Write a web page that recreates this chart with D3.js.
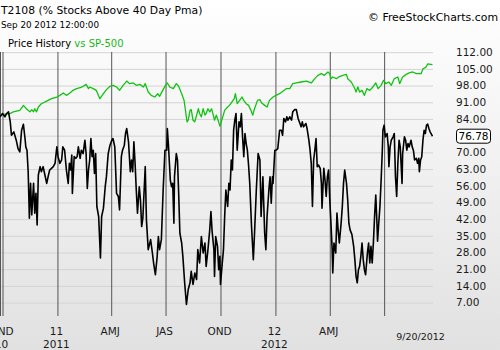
<!DOCTYPE html>
<html><head><meta charset="utf-8">
<script src="https://cdn.jsdelivr.net/npm/d3@7"></script>
<style>html,body{margin:0;padding:0;background:#fff;} svg{display:block;font-family:"DejaVu Sans",Verdana,sans-serif;}</style>
</head><body><svg id="chart" width="500" height="350"></svg>
<script>
// ---------- data ----------
const startDate = "2010-10-01";
const endDate = "2012-09-20";
const quarterDates = ["2010-10-01","2011-01-01","2011-04-01","2011-07-01","2011-10-01","2012-01-01","2012-04-01","2012-07-01"];
const quarterLabels = ["OND","11","AMJ","JAS","OND","12","AMJ",""];
const yearLabels = ["10","2011","","","","2012","",""];
const yTicks = [7,14,21,28,35,42,49,56,63,70,77,84,91,98,105,112];
const lastLabel = "9/20/2012";

// T2108 (day offsets from startDate)
const t2108Days = [
 -4,0,4,7,10,13,15,19,23,26,
 29,32,35,38,39,41,43,45,47,49,
 52,54,56,58,60,63,65,68,71,74,
 77,79,82,85,88,91,93,96,99,101,
 104,107,110,112,114,116,117,120,123,125,
 127,130,132,135,138,140,142,144,146,148,
 150,152,154,156,158,161,164,166,169,172,
 174,177,180,183,185,188,191,194,196,199,
 201,204,206,208,211,214,216,218,220,222,
 224,226,229,231,233,235,239,241,244,248,
 251,253,256,259,261,263,266,269,272,275,
 276,278,281,283,285,287,288,291,293,295,
 297,300,302,305,308,311,314,316,319,322,
 325,327,330,333,336,339,341,344,347,349,
 351,354,355,357,360,362,364,365,368,370,
 372,374,377,379,381,383,385,387,389,391,
 393,396,398,400,402,404,406,408,410,412,
 414,417,420,422,425,428,431,433,436,439,
 441,443,446,448,450,452,453,456,458,461,
 464,467,469,471,474,476,478,481,484,486,
 489,492,495,497,500,502,504,508,510,513,
 515,517,519,521,523,525,527,529,532,534,
 535,538,540,542,544,546,548,550,552,553,
 555,558,560,562,564,567,569,571,573,576,
 578,580,582,585,588,590,592,594,596,598,
 600,602,604,606,608,611,613,615,617,619,
 621,623,625,627,628,630,632,634,636,637,
 639,641,644,646,647,649,651,654,656,658,
 660,662,664,666,669,670,673,675,677,679,
 681,684,686,688,690,693,695,697,698,700,
 702,704,706,708,710,712,714,716,720];
const t2108Values = [
 84.9,86.3,84.9,86.3,87.0,82.8,77.2,78.6,75.1,71.6,
 70.2,79.3,81.8,75.1,72.3,70.9,61.9,42.4,57.0,43.8,
 57.0,44.5,52.8,39.6,60.5,64.0,61.9,64.0,60.5,57.0,
 60.5,62.6,63.3,64.0,65.4,72.3,68.2,65.4,66.8,72.3,
 70.9,62.6,57.0,65.4,62.6,68.9,52.8,68.2,67.5,68.2,
 72.3,67.5,70.9,69.5,75.1,69.5,54.9,62.6,66.8,75.8,
 68.2,70.9,61.2,69.5,47.3,43.1,25.7,43.1,46.6,55.6,
 59.8,69.5,73.0,75.1,75.8,72.3,52.8,51.5,45.9,68.2,
 70.9,73.0,77.9,80.0,74.4,61.9,66.8,61.9,74.4,65.4,
 54.2,44.5,55.6,50.1,38.9,42.4,64.0,41.7,29.2,33.4,
 27.8,23.6,18.7,26.4,34.7,29.2,33.4,54.2,70.9,70.9,
 80.0,72.3,58.4,55.6,57.0,40.3,59.8,69.5,66.8,52.8,
 36.1,32.0,26.4,15.3,6.2,12.5,15.3,20.1,14.6,19.4,
 16.7,29.2,23.6,34.7,27.8,32.0,22.2,29.2,37.5,45.2,
 36.8,29.2,18.0,34.7,30.6,20.8,26.4,14.6,23.6,29.2,
 43.1,54.2,47.3,57.0,54.2,66.8,62.6,79.3,83.5,86.3,
 70.9,82.8,80.7,86.3,76.5,68.2,77.9,73.7,70.9,64.7,
 57.0,38.9,25.0,36.1,54.2,69.5,66.8,43.1,59.8,36.1,
 29.2,43.1,54.2,59.8,48.7,59.8,57.0,70.9,70.9,71.6,
 79.3,79.3,77.2,84.2,82.8,84.9,83.5,84.9,83.5,87.0,
 87.9,87.9,84.2,82.8,80.7,82.8,80.7,82.1,80.0,75.1,
 70.9,65.4,47.3,66.8,70.9,75.8,64.0,64.7,63.3,57.0,
 46.6,63.3,58.4,51.5,59.8,62.6,50.1,40.3,29.2,19.4,
 32.0,27.8,44.5,37.5,32.0,40.3,47.3,57.0,62.6,57.0,
 50.1,40.3,37.5,35.6,30.6,25.0,18.0,15.3,20.8,22.2,
 26.4,32.0,25.0,20.8,18.7,27.8,32.0,23.6,30.6,23.6,
 32.0,43.1,52.1,40.3,32.7,40.3,47.3,58.4,70.9,79.3,
 81.4,76.5,77.9,72.3,64.0,72.3,75.1,76.5,77.9,59.8,
 51.5,65.4,75.1,72.3,57.0,69.5,76.5,75.1,70.9,73.7,
 72.3,75.1,72.3,70.9,66.8,67.5,65.4,67.5,61.9,66.8,
 68.2,75.1,79.3,77.9,81.4,81.8,80.0,78.6,76.78];

// SP-500 overlay (plotted on the same scale as drawn)
const spDays = [
 -4,4,13,18,29,35,40,46,49,52,
 54,57,60,65,74,82,91,96,102,107,
 113,118,124,130,135,140,144,146,152,157,
 163,169,174,180,185,191,196,202,208,213,
 219,224,230,236,239,244,
 249,255,260,263,269,273,276,280,286,291,
 295,300,304,306,309,311,314,316,319,322,
 325,328,330,333,336,339,341,344,347,350,
 353,355,358,361,364,368,372,377,380,384,
 388,390,393,397,401,404,408,412,416,419,
 422,427,431,434,439,443,447,453,458,464,
 470,475,481,
 486,492,500,509,517,523,528,534,539,545,
 548,550,553,559,564,570,576,578,584,590,
 592,595,598,602,606,610,615,620,625,629,
 634,638,642,647,651,656,662,665,670,676,
 681,687,693,701,704,709,712,720];
const spValues = [
 85.6,86.0,86.3,87.0,87.6,89.7,88.3,87.0,87.9,87.0,
 88.3,87.0,89.0,90.4,91.5,92.5,93.2,93.9,94.9,93.9,
 94.9,96.0,96.7,97.1,97.7,98.5,96.7,97.4,96.7,96.0,
 92.5,94.6,96.3,97.7,98.1,97.4,96.0,98.1,99.9,98.8,
 99.1,98.1,98.5,97.4,98.8,95.3,
 93.9,93.2,94.6,93.5,96.3,98.1,99.1,97.4,96.7,98.8,
 97.7,94.6,91.8,88.3,82.8,83.5,87.6,87.9,83.5,82.8,
 85.6,88.3,86.3,84.9,88.3,85.6,86.3,88.3,87.0,88.3,
 85.6,83.5,85.6,83.5,81.0,84.2,87.6,89.0,89.7,91.1,
 92.5,94.6,90.4,91.8,93.2,91.8,90.4,89.7,87.6,85.6,
 88.3,91.8,92.1,90.7,89.7,89.0,91.8,93.2,93.9,94.6,
 95.7,96.7,96.7,
 98.8,99.1,99.5,99.9,99.1,100.9,102.3,103.0,102.3,103.7,
 103.0,100.9,101.6,100.9,101.8,102.3,102.7,100.9,99.5,96.7,
 95.3,97.4,95.3,96.0,93.9,96.7,96.0,97.4,99.1,96.7,
 98.1,100.2,98.8,99.5,98.1,100.9,101.6,98.8,101.6,102.7,
 103.3,103.7,103.0,103.0,105.0,105.7,107.1,106.8];

// ---------- chart ----------
const W = 500, H = 350;
const plotRight = 433, plotTop = 52, plotBottom = 316;
const parse = d3.utcParse("%Y-%m-%d");
const t0 = parse(startDate), t1 = parse(endDate);
const x = d3.scaleUtc().domain([t0, t1]).range([2.5, 432.5]);
const y = d3.scaleLinear().domain([7, 112]).range([302.6, 52.2]);

const svg = d3.select("#chart");
const defs = svg.append("defs");
const grad = defs.append("linearGradient").attr("id","bg").attr("x1",0).attr("y1",0).attr("x2",0).attr("y2",1);
grad.append("stop").attr("offset","0%").attr("stop-color","#ffffff");
grad.append("stop").attr("offset","100%").attr("stop-color","#e1e1e1");
defs.append("clipPath").attr("id","clip").append("rect").attr("x",0).attr("y",0).attr("width",plotRight).attr("height",plotBottom);

svg.append("rect").attr("width",W).attr("height",H).attr("fill","url(#bg)");

// horizontal grid + right labels
const yAxis = d3.axisRight(y).tickValues(yTicks).tickSize(-plotRight).tickPadding(23)
  .tickFormat(d => d === 77 ? "" : d3.format(".2f")(d));
const gy = svg.append("g").attr("transform",`translate(${plotRight},0)`).call(yAxis);
gy.select(".domain").remove();
gy.selectAll(".tick line").attr("stroke","#d4d4d4").attr("stroke-width",1);
gy.selectAll(".tick text").attr("fill","#1a1a1a").attr("font-size","10.5px")
  .attr("font-family","'DejaVu Sans',Verdana,sans-serif");

// vertical quarter lines
const qd = quarterDates.map(parse);
const xAxis = d3.axisBottom(x).tickValues(qd).tickSize(-(plotBottom - plotTop)).tickFormat("");
const gx = svg.append("g").attr("transform",`translate(0,${plotBottom})`).call(xAxis);
gx.select(".domain").remove();
gx.selectAll(".tick line").attr("stroke","#555").attr("stroke-width",1);
svg.append("line").attr("x1",0.5).attr("x2",0.5).attr("y1",plotTop).attr("y2",plotBottom)
  .attr("stroke","#555").attr("stroke-width",1);

// labels under quarter lines
const labG = svg.append("g").attr("font-size","10.5px").attr("fill","#1a1a1a").attr("text-anchor","middle");
labG.selectAll("text.q").data(qd).enter().append("text").attr("class","q")
  .attr("x", d => x(d) - 1).attr("y", 335).text((d,i) => quarterLabels[i]);
labG.selectAll("text.yr").data(qd).enter().append("text").attr("class","yr")
  .attr("x", d => x(d) - 1).attr("y", 348).text((d,i) => yearLabels[i]);
svg.append("text").attr("x", x(t1) - 12).attr("y", 340).attr("text-anchor","middle")
  .attr("font-size","9.5px").attr("fill","#1a1a1a").text(lastLabel);

// lines
const spData = spDays.map((d,i) => ({date: d3.utcDay.offset(t0, d), v: spValues[i]}));
const tData = t2108Days.map((d,i) => ({date: d3.utcDay.offset(t0, d), v: t2108Values[i]}));
const line = d3.line().x(d => x(d.date)).y(d => y(d.v));
const lg = svg.append("g").attr("clip-path","url(#clip)");
lg.append("path").datum(spData).attr("d", line).attr("fill","none").attr("stroke","#11c311").attr("stroke-width",1.3).attr("stroke-linejoin","round");
lg.append("path").datum(tData).attr("d", line).attr("fill","none").attr("stroke","#000").attr("stroke-width",1.6).attr("stroke-linejoin","round");

// last value box
const lastV = t2108Values[t2108Values.length - 1];
const by = y(lastV);
svg.append("rect").attr("x",456.5).attr("y",by - 7).attr("width",34).attr("height",14).attr("rx",3)
  .attr("fill","#fff").attr("stroke","#000").attr("stroke-width",1);
svg.append("text").attr("x",473.5).attr("y",by + 4).attr("text-anchor","middle").attr("font-size","10.5px")
  .attr("fill","#000").text(d3.format(".2f")(lastV));

// header texts
svg.append("text").attr("x",1).attr("y",13.5).attr("font-size","10.8px").attr("fill","#000")
  .text("T2108 (% Stocks Above 40 Day Pma)");
svg.append("text").attr("x",1).attr("y",27.5).attr("font-size","8.8px").attr("fill","#000")
  .text("Sep 20 2012 12:00:00");
const ph = svg.append("text").attr("x",8).attr("y",46.5).attr("font-size","10px").attr("fill","#000");
ph.append("tspan").text("Price History ");
ph.append("tspan").attr("fill","#19b819").text("vs SP-500");
svg.append("text").attr("x",498).attr("y",21).attr("text-anchor","end").attr("font-size","10.9px").attr("fill","#000")
  .text("© FreeStockCharts.com");
</script></body></html>
